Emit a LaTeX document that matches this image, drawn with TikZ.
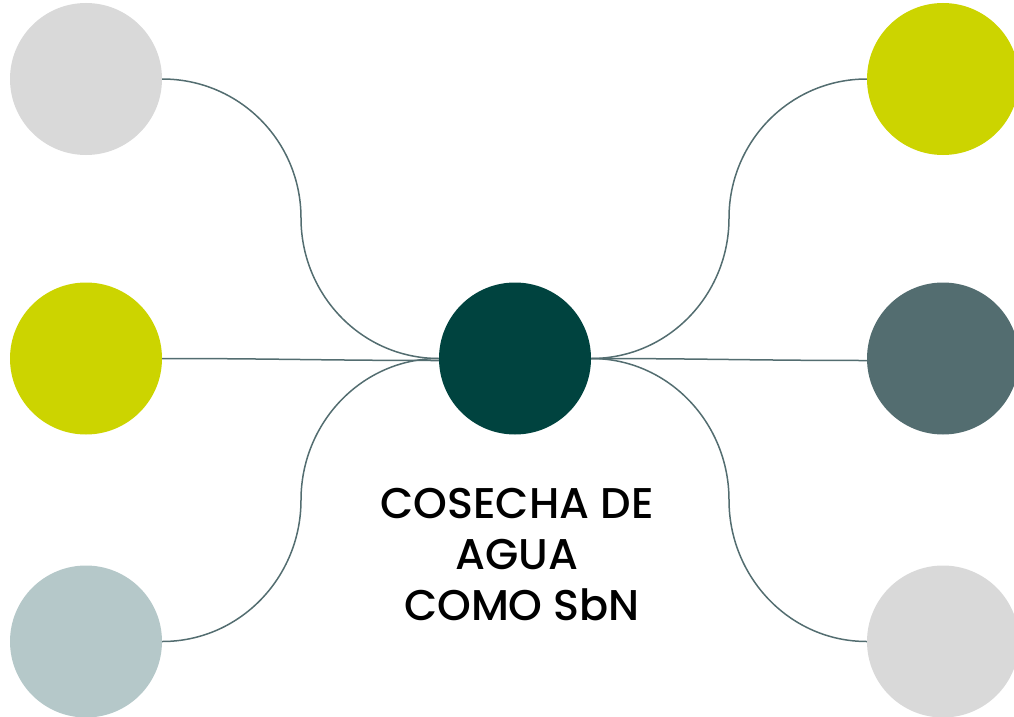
\documentclass[tikz,border=0pt]{standalone}
\usepackage{fontspec}
\setmainfont{Poppins}[UprightFont=* Medium]
\definecolor{cgray}{HTML}{D9D9D9}
\definecolor{clime}{HTML}{CCD400}
\definecolor{cblue}{HTML}{B5C8C9}
\definecolor{cteal}{HTML}{00433F}
\definecolor{cslate}{HTML}{536D70}
\definecolor{linec}{HTML}{536D70}
\begin{document}
\begin{tikzpicture}[x=1pt,y=-1pt,
  bub/.style={circle,minimum size=152pt,inner sep=0pt,draw=none},
  link/.style={draw=linec,line width=1.5pt}]
\useasboundingbox (0,0) rectangle (1014,717);
\node[bub,fill=cgray]  (l1) at (86,79) {};
\node[bub,fill=clime]  (l2) at (86,358.5) {};
\node[bub,fill=cblue]  (l3) at (86,641.5) {};
\node[bub,fill=clime]  (r1) at (943,79) {};
\node[bub,fill=cslate] (r2) at (943,358.5) {};
\node[bub,fill=cgray]  (r3) at (943,641.5) {};
\node[bub,fill=cteal]  (c)  at (515,358.5) {};
\coordinate (m1) at (301,218);
\coordinate (m3) at (301,500);
\coordinate (n1) at (729,218);
\coordinate (n3) at (729,500);
\draw[link] (l1.east) to[out=0,in=90] (m1) to[out=-90,in=180] (c.west);
\draw[link] (l3.east) to[out=0,in=-90] (m3) to[out=90,in=180] (c.west);
\draw[link] (l2.east) to[out=0,in=180] ([yshift=-2pt]c.west);
\draw[link] (r1.west) to[out=180,in=90] (n1) to[out=-90,in=0] (c.east);
\draw[link] (r3.west) to[out=180,in=-90] (n3) to[out=90,in=0] (c.east);
\draw[link] ([yshift=-2pt]r2.west) to[out=180,in=0] (c.east);
\node[align=center,font=\fontsize{43}{51}\selectfont,inner sep=0pt] (t) at (517,555)
  {COSECHA DE\\AGUA\\\hspace*{10pt}COMO SbN};
\end{tikzpicture}
\end{document}
